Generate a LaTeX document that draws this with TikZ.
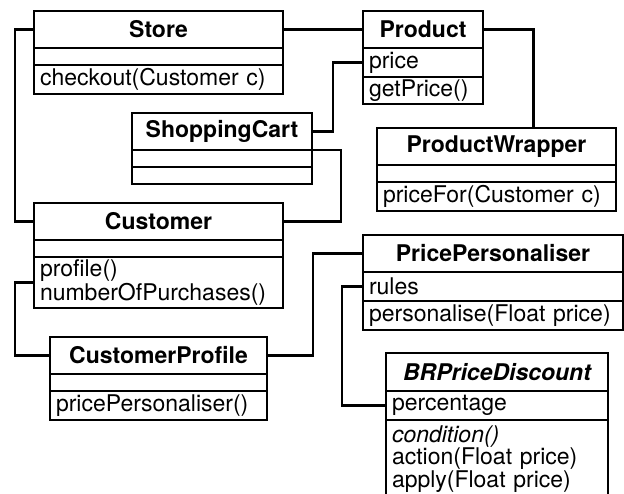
\documentclass[tikz,border=0pt]{standalone}
\usepackage{fontspec}
\setmainfont{TeX Gyre Heros}
\usetikzlibrary{positioning}
\newcommand{\classfont}{\fontsize{23}{18.5}\selectfont}
\tikzset{
  classhead/.style={draw,line width=2.3pt,minimum width=#1,minimum height=37pt,
            inner sep=0pt,outer sep=0pt,font=\classfont\bfseries},
  classpart/.style={draw,line width=2.3pt,text width=#1,minimum height=29pt,
            inner xsep=6pt,inner ysep=0pt,outer sep=0pt,align=left,font=\classfont},
  emptypart/.style={classpart=#1,minimum height=17pt},
  assoc/.style={line width=2.3pt},
}

\begin{document}
\begin{tikzpicture}[x=1pt,y=-1pt]
  \useasboundingbox (0,0) rectangle (624,493);

  % classes
  \node[classhead=249pt,anchor=north west] (store) at (34,11) {Store};
  \node[emptypart=237pt,below=0pt of store] (store-a) {};
  \node[classpart=237pt,below=0pt of store-a] (store-m) {checkout(Customer c)};

  \node[classhead=120pt,anchor=north west] (prod) at (363,11) {Product};
  \node[classpart=108pt,below=0pt of prod] (prod-a) {price};
  \node[classpart=108pt,minimum height=27pt,below=0pt of prod-a] (prod-m) {getPrice()};

  \node[classhead=180pt,anchor=north west] (cart) at (132,113) {ShoppingCart};
  \node[emptypart=168pt,below=0pt of cart] (cart-a) {};
  \node[emptypart=168pt,below=0pt of cart-a] (cart-m) {};

  \node[classhead=239pt,anchor=north west] (wrap) at (377,128) {ProductWrapper};
  \node[emptypart=227pt,below=0pt of wrap] (wrap-a) {};
  \node[classpart=227pt,below=0pt of wrap-a] (wrap-m) {priceFor(Customer c)};

  \node[classhead=249pt,anchor=north west] (cust) at (34,203) {Customer};
  \node[emptypart=237pt,below=0pt of cust] (cust-a) {};
  \node[classpart=237pt,minimum height=51pt,below=0pt of cust-a] (cust-m)
       {profile()\\numberOfPurchases()};

  \node[classhead=217pt,anchor=north west] (prof) at (50,337) {CustomerProfile};
  \node[emptypart=205pt,below=0pt of prof] (prof-a) {};
  \node[classpart=205pt,below=0pt of prof-a] (prof-m) {pricePersonaliser()};

  \node[classhead=260pt,anchor=north west] (pers) at (363,235) {PricePersonaliser};
  \node[classpart=248pt,below=0pt of pers] (pers-a) {rules};
  \node[classpart=248pt,below=0pt of pers-a] (pers-m) {personalise(Float price)};

  \node[classhead=222pt,minimum height=38pt,anchor=north west] (disc) at (386,353)
       {\itshape BRPriceDiscount};
  \node[classpart=210pt,below=0pt of disc] (disc-a) {percentage};
  \node[classpart=210pt,minimum height=78pt,below=0pt of disc-a] (disc-m)
       {\textit{condition()}\\action(Float price)\\apply(Float price)};

  % associations
  \draw[assoc] (store.west) -- ++(-19,0) |- (cust.west);
  \draw[assoc] (store.east) -- (prod.west);
  \draw[assoc] (prod.east) -| ([xshift=37pt]wrap.north);
  \draw[assoc] (cart.east) -- ++(21,0) |- (prod-a.west);
  \draw[assoc] (cart-a.north east) -- ++(29,0) |- (cust.east);
  \draw[assoc] (cust-m.west) -- ++(-19,0) |- (prof.west);
  \draw[assoc] (prof.east) -- ++(46,0) |- (pers.west);
  \draw[assoc] (pers-a.west) -- ++(-21,0) |- (disc-a.west);
\end{tikzpicture}
\end{document}
